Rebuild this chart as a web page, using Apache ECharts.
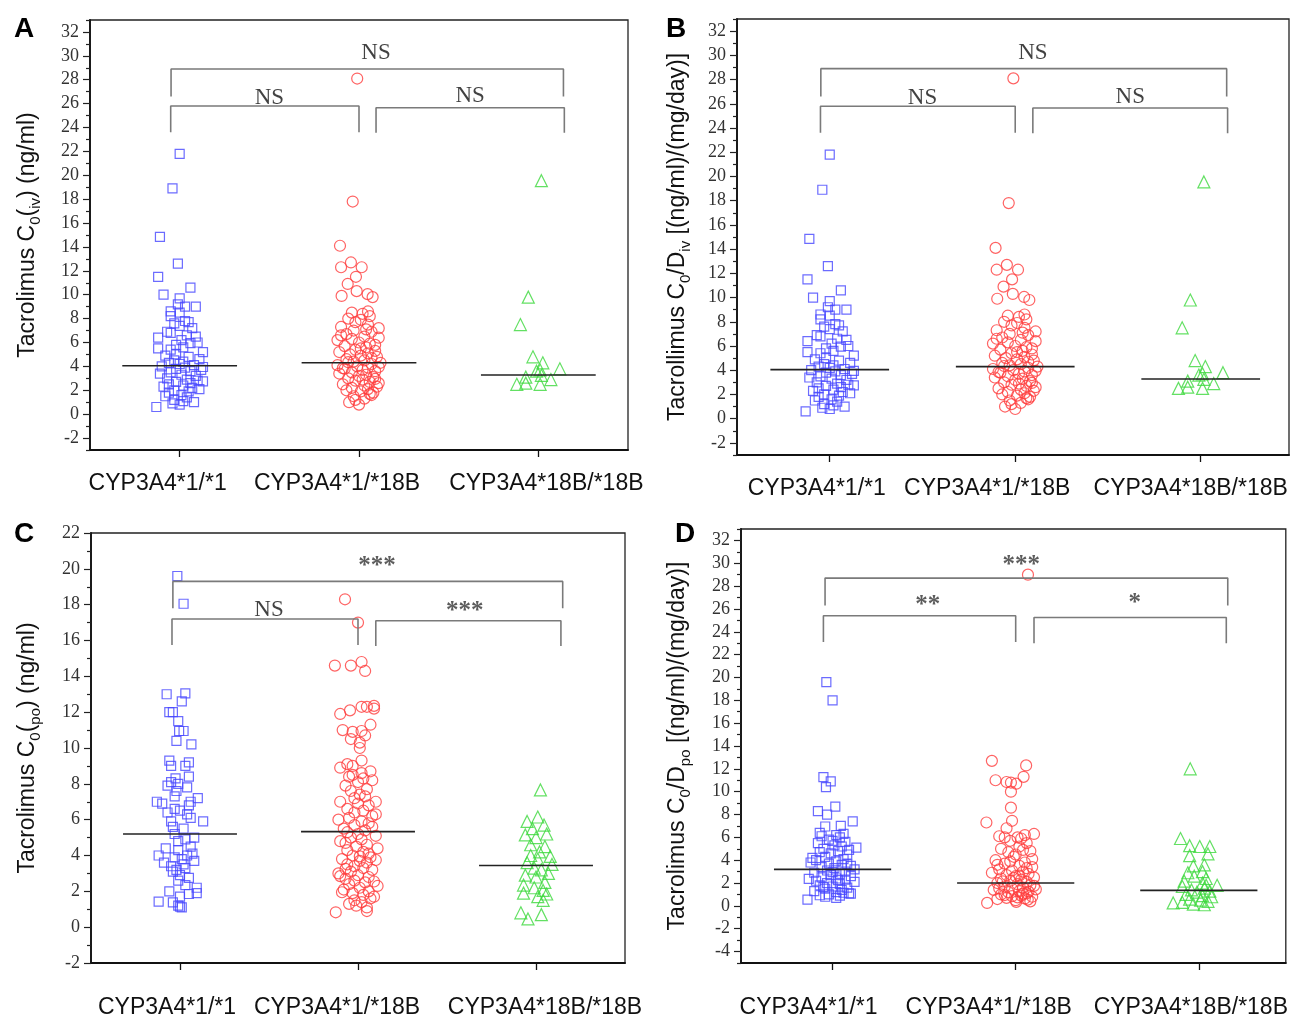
<!DOCTYPE html>
<html><head><meta charset="utf-8">
<script src="https://cdn.jsdelivr.net/npm/echarts@6/dist/echarts.min.js"></script>
<style>html,body{margin:0;padding:0;background:#fff}#c{width:1291px;height:1019px}</style>
</head><body><div id="c"></div>
<script>
// ---------------- DATA ----------------
const categories = ['CYP3A4*1/*1', 'CYP3A4*1/*18B', 'CYP3A4*18B/*18B'];

// each point: [value, horizontal jitter around the category]
const A_g1 = [[21.8,0.00],[18.9,-0.04],[14.85,-0.11],[12.6,-0.01],[11.5,-0.12],[10.6,0.06],[10.0,-0.09],[9.7,0.00],[9.0,0.09],[9.0,0.03],[8.6,-0.05],[8.5,0.00],[8.2,-0.05],[7.7,0.05],[7.4,0.00],[7.2,0.07],[6.8,-0.05],[6.6,0.04],[6.5,0.09],[6.4,-0.12],[6.2,0.01],[5.95,0.06],[5.5,-0.12],[5.4,-0.05],[5.2,0.13],[5.6,0.02],[5.0,-0.02],[4.8,0.05],[4.5,-0.03],[4.4,0.02],[4.3,-0.06],[4.2,0.00],[4.1,0.08],[4.0,-0.10],[3.9,0.03],[3.8,-0.02],[3.6,0.06],[3.5,-0.05],[3.3,0.01],[3.2,0.09],[3.0,-0.07],[2.9,0.04],[2.8,0.10],[2.7,-0.02],[2.6,0.06],[2.5,-0.06],[2.4,0.02],[2.3,-0.09],[2.2,0.07],[2.0,-0.03],[1.9,0.05],[1.8,-0.06],[1.6,0.01],[1.5,-0.08],[1.4,0.04],[1.2,-0.03],[1.0,0.08],[0.9,-0.04],[0.8,0.00],[0.6,-0.13],[6.9,-0.07],[7.8,0.03],[4.6,0.11],[3.4,-0.11],[2.1,0.11],[5.8,-0.02],[6.0,0.10],[4.9,-0.08],[3.7,0.12],[1.1,0.02],[2.75,0.13],[3.95,0.13],[9.2,-0.01],[7.6,-0.03]];
const A_g2 = [[28.1,-0.01],[17.8,-0.035],[14.1,-0.106],[12.7,-0.045],[12.3,-0.10],[12.3,0.015],[11.5,-0.017],[10.9,-0.063],[10.3,-0.013],[10.05,0.048],[9.9,-0.097],[9.8,0.076],[8.5,-0.04],[8.4,0.02],[8.2,0.06],[8.0,-0.06],[7.9,0.01],[7.7,-0.02],[7.5,0.05],[7.3,-0.10],[7.2,0.11],[7.0,-0.03],[6.9,0.07],[6.7,-0.07],[6.5,0.03],[6.4,0.11],[6.2,-0.12],[6.0,0.00],[5.9,0.06],[5.7,-0.08],[5.6,0.04],[5.4,-0.02],[5.3,0.09],[5.2,-0.11],[5.1,0.05],[5.0,-0.05],[4.9,0.01],[4.8,0.10],[4.6,-0.07],[4.5,0.03],[4.4,-0.03],[4.3,0.12],[4.2,0.07],[4.1,-0.12],[4.0,-0.01],[3.9,0.05],[3.8,-0.08],[3.7,0.02],[3.6,0.09],[3.5,-0.04],[3.4,-0.11],[3.3,0.04],[3.2,0.00],[3.1,0.08],[3.0,-0.06],[2.9,0.02],[2.8,-0.02],[2.7,0.06],[2.5,-0.09],[2.4,0.03],[2.3,0.10],[2.2,-0.04],[2.1,0.05],[2.0,-0.07],[1.9,0.01],[1.8,0.08],[1.7,0.06],[1.6,0.07],[1.5,-0.03],[1.3,0.03],[1.0,-0.055],[0.8,0.00],[6.3,-0.04],[5.8,0.09],[4.7,0.07],[3.85,-0.09],[2.6,0.11],[7.1,0.04],[5.5,0.01],[4.35,-0.06],[3.95,0.11],[2.95,0.09],[1.2,-0.02],[6.6,-0.10],[8.6,0.05]];
const A_g3 = [[19.55,0.017],[9.8,-0.056],[7.5,-0.10],[4.8,-0.03],[4.3,0.025],[3.8,0.12],[3.7,0.01],[3.6,-0.01],[3.25,0.017],[3.1,-0.07],[2.9,0.07],[2.6,-0.07],[2.5,-0.12],[2.5,0.01]];
const A_medians = [4.05, 4.3, 3.28];

// panel B shows the same points as panel A
const B_g1 = A_g1;
const B_g2 = A_g2;
const B_g3 = A_g3;
const B_medians = [4.05, 4.3, 3.28];

const C_g1 = [[19.6,-0.015],[18.05,0.02],[13.0,-0.075],[13.05,0.03],[12.6,0.01],[12.0,-0.06],[12.0,-0.04],[11.5,-0.01],[10.95,-0.005],[10.95,0.02],[10.4,-0.02],[10.2,0.064],[9.3,-0.06],[9.2,0.05],[9.0,0.03],[9.0,-0.05],[8.4,0.05],[8.3,-0.025],[8.1,-0.05],[7.9,-0.07],[7.8,0.04],[7.6,-0.02],[7.3,-0.03],[7.2,0.10],[7.0,-0.13],[7.0,0.06],[6.9,-0.10],[6.8,0.05],[6.6,-0.03],[6.5,0.00],[6.3,0.04],[6.1,0.06],[5.9,0.13],[5.9,-0.05],[5.6,-0.04],[5.2,-0.03],[5.0,0.08],[4.9,0.03],[4.8,-0.01],[4.4,-0.08],[4.3,-0.01],[4.1,0.07],[4.0,-0.12],[4.0,0.04],[3.9,-0.03],[3.8,0.01],[3.6,-0.09],[3.5,0.02],[3.4,-0.05],[3.3,0.03],[3.2,-0.02],[3.1,-0.04],[2.9,0.00],[2.6,-0.01],[2.35,0.03],[2.2,0.094],[2.0,-0.06],[1.9,0.094],[1.85,0.05],[1.7,0.00],[1.43,-0.12],[1.38,-0.04],[1.2,-0.01],[1.14,0.00],[1.1,0.01],[4.5,0.06],[3.7,0.08],[6.4,-0.07],[5.5,0.02],[2.75,0.05],[8.0,-0.01]];
const C_g2 = [[18.3,-0.073],[17.0,0.00],[14.6,-0.13],[14.6,-0.04],[14.8,0.02],[14.3,0.04],[12.35,0.09],[12.3,0.02],[12.3,0.05],[12.2,0.09],[12.1,-0.045],[11.9,-0.10],[11.3,0.07],[11.0,-0.086],[10.95,0.02],[10.9,-0.03],[10.7,0.04],[10.5,-0.04],[10.3,0.01],[10.0,0.01],[9.3,0.02],[9.1,-0.06],[8.9,-0.10],[8.7,0.07],[8.5,-0.03],[8.4,-0.05],[8.3,0.03],[8.2,0.08],[8.1,0.00],[7.9,-0.07],[7.7,0.05],[7.6,-0.04],[7.4,0.01],[7.2,-0.02],[7.0,0.10],[7.0,-0.10],[6.9,0.00],[6.8,0.06],[6.6,-0.06],[6.5,0.03],[6.2,0.08],[6.1,-0.05],[6.0,-0.11],[5.9,0.02],[5.8,0.06],[5.7,-0.02],[5.5,-0.08],[5.4,0.04],[5.2,0.00],[5.1,0.10],[5.0,-0.04],[4.9,0.02],[4.8,-0.10],[4.6,0.05],[4.5,-0.01],[4.4,0.11],[4.3,-0.06],[4.2,0.03],[4.0,-0.03],[3.9,0.07],[3.8,-0.09],[3.7,0.01],[3.6,0.05],[3.5,-0.06],[3.4,-0.02],[3.3,0.03],[3.2,0.08],[3.1,-0.04],[3.0,-0.11],[2.9,0.00],[2.8,0.06],[2.7,-0.07],[2.6,-0.02],[2.5,0.04],[2.4,-0.05],[2.3,0.11],[2.2,0.01],[2.1,-0.08],[2.0,0.06],[1.9,-0.03],[1.8,0.03],[1.7,0.09],[1.6,0.07],[1.5,-0.02],[1.4,0.02],[1.3,-0.05],[1.2,-0.01],[1.1,0.05],[0.9,0.05],[0.83,-0.125],[6.4,-0.02],[5.6,0.08],[4.7,-0.07],[3.95,0.01],[3.25,-0.07],[2.55,0.09],[1.95,-0.09],[7.3,0.04],[8.6,0.02],[9.0,-0.03],[6.3,0.10],[4.1,0.06],[2.85,-0.10],[5.3,-0.06],[3.75,0.10]];
const C_g3 = [[7.66,0.025],[6.15,0.01],[5.9,-0.05],[5.7,0.045],[5.5,-0.02],[5.2,0.06],[5.15,-0.06],[5.0,0.00],[4.6,-0.03],[4.5,0.05],[4.0,-0.03],[3.95,0.08],[3.8,0.01],[3.5,0.09],[3.2,0.03],[3.3,-0.01],[2.9,-0.06],[2.8,0.00],[2.35,-0.07],[2.2,-0.01],[2.05,0.04],[1.9,-0.07],[1.7,0.01],[1.5,0.04],[0.8,-0.085],[0.7,0.03],[0.46,-0.045],[1.85,0.06],[2.5,0.05],[3.6,-0.05],[4.2,0.02],[3.0,0.07]];
const C_medians = [5.2, 5.33, 3.44];

const D_g1 = [[19.6,-0.034],[18.0,0.00],[11.27,-0.05],[10.9,-0.01],[10.4,-0.036],[8.7,0.015],[8.3,-0.08],[8.0,-0.03],[7.4,0.11],[7.0,0.045],[6.95,-0.04],[6.4,-0.07],[6.2,0.02],[6.1,-0.06],[6.0,0.04],[5.8,-0.02],[5.6,0.07],[5.5,-0.08],[5.3,0.01],[5.2,0.05],[5.1,0.13],[5.0,-0.05],[4.8,0.03],[4.6,-0.01],[4.5,0.08],[4.3,-0.04],[4.1,0.06],[4.0,-0.09],[3.9,0.02],[3.8,-0.12],[3.7,-0.02],[3.6,0.05],[3.5,0.10],[3.4,-0.06],[3.3,0.01],[3.1,-0.03],[3.0,0.07],[2.9,-0.10],[2.8,0.04],[2.7,-0.01],[2.6,0.10],[2.5,-0.06],[2.4,0.02],[2.37,-0.13],[2.3,0.07],[2.2,-0.09],[2.1,0.12],[2.0,-0.03],[1.9,0.04],[1.8,-0.07],[1.7,0.00],[1.6,0.08],[1.5,-0.04],[1.4,0.05],[1.3,-0.10],[1.2,0.02],[1.1,0.09],[1.07,0.10],[1.0,-0.02],[0.93,-0.07],[0.9,0.04],[0.8,-0.04],[0.7,0.02],[0.55,-0.137],[5.7,0.00],[4.9,0.09],[4.2,-0.11],[3.65,0.08],[2.95,0.00],[2.25,0.03],[1.65,-0.05],[1.15,0.06],[3.2,0.12],[4.7,-0.07],[6.3,0.06]];
const D_g2 = [[29.0,0.067],[12.7,-0.13],[12.3,0.057],[11.3,0.043],[11.0,-0.11],[10.85,-0.05],[10.8,-0.026],[10.7,0.003],[10.0,-0.026],[8.6,-0.026],[7.45,-0.02],[7.3,-0.16],[6.8,-0.05],[6.2,0.05],[6.1,-0.09],[6.0,-0.06],[6.0,0.01],[5.7,-0.03],[5.2,0.02],[5.0,-0.08],[4.9,0.04],[4.7,-0.04],[4.5,0.00],[4.1,0.09],[4.0,-0.11],[3.8,0.05],[3.7,-0.06],[3.5,0.02],[3.4,0.09],[3.2,-0.09],[3.1,-0.02],[3.0,0.04],[2.9,-0.13],[2.8,0.07],[2.7,-0.05],[2.6,0.00],[2.5,0.10],[2.4,-0.08],[2.3,0.03],[2.2,-0.03],[2.1,0.06],[2.0,-0.10],[1.9,0.01],[1.8,0.08],[1.7,-0.06],[1.6,0.04],[1.5,-0.02],[1.45,0.11],[1.4,-0.12],[1.3,0.02],[1.2,-0.04],[1.1,0.06],[1.0,-0.08],[0.9,0.03],[0.85,-0.02],[0.8,0.09],[0.7,-0.05],[0.65,0.05],[0.6,-0.10],[0.55,0.066],[0.5,0.00],[0.35,0.003],[0.26,-0.156],[5.5,0.06],[4.3,-0.01],[3.6,-0.10],[3.3,0.06],[2.65,0.02],[2.15,-0.07],[1.75,0.10],[1.25,0.07],[0.95,-0.06],[0.75,0.01],[4.8,0.08],[3.9,-0.03],[2.45,-0.01],[1.55,-0.09],[1.05,0.04],[5.9,0.03],[6.3,0.10],[0.4,0.08]];
const D_g3 = [[12.0,-0.047],[5.9,-0.10],[5.27,-0.05],[5.2,0.06],[5.2,0.005],[4.55,0.05],[4.4,-0.05],[3.6,0.03],[3.5,-0.03],[3.0,0.02],[2.9,-0.06],[2.6,-0.025],[2.4,0.04],[2.17,-0.08],[2.0,0.02],[1.8,0.10],[1.8,0.04],[1.7,-0.09],[1.55,0.03],[1.4,-0.04],[1.3,0.06],[1.2,-0.01],[1.0,-0.07],[0.9,0.02],[0.8,0.07],[0.6,-0.05],[0.5,0.01],[0.4,0.05],[0.3,-0.09],[0.26,-0.14],[0.15,-0.03],[0.1,0.03]];
const D_medians = [3.2, 2.0, 1.36];

// tick labels
const ticks_m2_32 = [-2,0,2,4,6,8,10,12,14,16,18,20,22,24,26,28,30,32];
const ticks_m2_22 = [-2,0,2,4,6,8,10,12,14,16,18,20,22];
const ticks_m4_32 = [-4,-2,0,2,4,6,8,10,12,14,16,18,20,22,24,26,28,30,32];

// significance annotations
const A_notes = [['NS',2.095,30.2],['NS',1.5,26.5],['NS',2.62,26.6]];
const B_notes = [['NS',2.095,30.2],['NS',1.5,26.5],['NS',2.62,26.6]];
const C_notes = [['***',2.107,20.3],['NS',1.5,17.7],['***',2.6,17.8]];
const D_notes = [['***',2.03,30.1],['**',1.52,26.6],['*',2.65,26.7]];

// brackets: [x1, x2, yTop, yBottomLeft, yBottomRight]
const AB_brackets = [[0.952,3.14,28.9,26.6,26.6],[0.95,2.0,25.8,23.6,23.6],[2.095,3.145,25.65,23.56,23.56]];
const C_brackets = [[0.96,3.15,19.3,17.8,17.8],[0.955,2.0,17.2,15.75,15.75],[2.1,3.14,17.1,15.7,15.7]];
const D_brackets = [[0.959,3.158,28.7,26.3,26.3],[0.95,2.0,25.4,23.1,23.1],[2.10,3.15,25.25,23.0,23.0]];

// ---------------- LAYOUT / STYLE ----------------
const SANS = '"Liberation Sans", Arial, Helvetica, sans-serif';
const SERIF = '"Liberation Serif", "Times New Roman", serif';
const groupStyle = [
  {symbol:'rect', size:9, color:'#4646ff'},
  {symbol:'circle', size:11, color:'#ff3c3c'},
  {symbol:'triangle', size:12, color:'#3cd83c'}
];
const panels = [
  {letter:'A', lx:24, ly:29, grid:{left:90,top:20,width:538,height:430}, ymin:-3, ymax:33, xmax:3.5,
   ticks:ticks_m2_32, groups:[A_g1,A_g2,A_g3], medians:A_medians, notes:A_notes, brackets:AB_brackets,
   name:'Tacrolimus C{s|0}({s|iv}) (ng/ml)', nameGap:47, shift:[-22,-22,8], labelMargin:22},
  {letter:'B', lx:676, ly:29, grid:{left:737,top:19,width:552,height:436}, ymin:-3, ymax:33, xmax:3.476,
   ticks:ticks_m2_32, groups:[B_g1,B_g2,B_g3], medians:B_medians, notes:B_notes, brackets:AB_brackets,
   name:'Tacrollimus C{s|0}/D{s|iv} [(ng/ml)/(mg/day)]', nameGap:44, shift:[-13,-28,-10], labelMargin:22},
  {letter:'C', lx:24, ly:534, grid:{left:91,top:533,width:534,height:434}, ymin:-2, ymax:22, xmax:3.5,
   ticks:ticks_m2_22, groups:[C_g1,C_g2,C_g3], medians:C_medians, notes:C_notes, brackets:C_brackets,
   name:'Tacrolimus C{s|0}({s|po}) (ng/ml)', nameGap:48, shift:[-13,-21,9], labelMargin:33},
  {letter:'D', lx:685, ly:534, grid:{left:741,top:529,width:548,height:438}, ymin:-5, ymax:33, xmax:3.475,
   ticks:ticks_m4_32, groups:[D_g1,D_g2,D_g3], medians:D_medians, notes:D_notes, brackets:D_brackets,
   name:'Tacrolimus C{s|0}/D{s|po} [(ng/ml)/(mg/day)]', nameGap:48, shift:[-24,-27,-8], labelMargin:33}
];

const grids = [], xAxes = [], yAxes = [], series = [], graphics = [];
const HALF = 0.32;

panels.forEach((p, i) => {
  grids.push(Object.assign({show:true, borderColor:'#222', borderWidth:1.3, backgroundColor:'rgba(0,0,0,0)'}, p.grid));
  const rich = {};
  p.shift.forEach((s, k) => { rich['l'+k] = {padding: s < 0 ? [0, -2*s, 0, 0] : [0, 0, 0, 2*s]}; });
  xAxes.push({
    type:'value', gridIndex:i, min:0.5, max:p.xmax, splitLine:{show:false},
    axisLine:{show:true, onZero:false, lineStyle:{color:'#111', width:1.8}},
    axisTick:{show:true, customValues:[1,2,3], length:7, inside:false, lineStyle:{color:'#111', width:1.3}},
    axisLabel:{show:true, customValues:[1,2,3], margin:p.labelMargin, fontSize:23, fontFamily:SANS, color:'#111',
      formatter: v => { const k = Math.round(v) - 1; return '{l'+k+'|'+categories[k]+'}'; }, rich}
  });
  const oddTicks = [];
  for (let v = Math.ceil(p.ymin); v <= p.ymax; v++) if (Math.abs(v % 2) === 1) oddTicks.push(v);
  yAxes.push({
    type:'value', gridIndex:i, min:p.ymin, max:p.ymax, position:'left', splitLine:{show:false},
    axisLine:{show:true, onZero:false, lineStyle:{color:'#111', width:1.8}},
    axisTick:{show:true, customValues:p.ticks, length:7, lineStyle:{color:'#222', width:1.2}},
    axisLabel:{show:true, customValues:p.ticks, margin:11, fontSize:18, fontFamily:SERIF, color:'#333'},
    name:p.name, nameLocation:'middle', nameGap:p.nameGap,
    nameTextStyle:{fontSize:23, fontFamily:SANS, color:'#111', lineHeight:30,
      rich:{s:{fontSize:15, lineHeight:15, verticalAlign:'bottom', fontFamily:SANS, color:'#111'}}}
  });
  yAxes.push({
    type:'value', gridIndex:i, min:p.ymin, max:p.ymax, position:'left', splitLine:{show:false},
    axisLine:{show:false}, axisLabel:{show:false},
    axisTick:{show:true, customValues:oddTicks, length:4, lineStyle:{color:'#222', width:1.2}}
  });
  const yi = i * 2;
  p.groups.forEach((g, k) => {
    const st = groupStyle[k];
    series.push({
      type:'scatter', xAxisIndex:i, yAxisIndex:yi, symbol:st.symbol, symbolSize:st.size,
      itemStyle:{color:'rgba(0,0,0,0)', borderColor:st.color, borderWidth:1.2},
      emphasis:{disabled:true}, silent:true,
      data: g.map(d => [k + 1 + d[1], d[0]])
    });
  });
  p.medians.forEach((m, k) => {
    series.push({
      type:'line', xAxisIndex:i, yAxisIndex:yi, showSymbol:false, silent:true, z:5,
      lineStyle:{color:'#222', width:1.6},
      data:[[k + 1 - HALF, m], [k + 1 + HALF, m]]
    });
  });
  p.brackets.forEach(b => {
    series.push({
      type:'line', xAxisIndex:i, yAxisIndex:yi, showSymbol:false, silent:true, z:4,
      lineStyle:{color:'#7a7a7a', width:1.6},
      data:[[b[0], b[3]], [b[0], b[2]], [b[1], b[2]], [b[1], b[4]]]
    });
  });
  series.push({
    type:'scatter', xAxisIndex:i, yAxisIndex:yi, symbolSize:1, silent:true, z:6,
    itemStyle:{color:'rgba(0,0,0,0)'},
    label:{show:true, position:'inside', fontFamily:SERIF, fontSize:23, color:'#111',
      formatter: q => q.value[2]},
    data: p.notes.map(n => {
      const star = n[0].indexOf('*') >= 0;
      return {value:[n[1], n[2], n[0]],
        label: star ? {offset:[0, 3], fontSize:25, fontWeight:'bold', color:'#333'} : {offset:[0, 0]}};
    })
  });
  graphics.push({type:'text', x:p.lx, y:p.ly,
    style:{text:p.letter, fontSize:28, fontWeight:'bold', fontFamily:SANS, fill:'#000', align:'center', verticalAlign:'middle'}});
});

const chart = echarts.init(document.getElementById('c'), null, {renderer:'canvas'});
chart.setOption({
  backgroundColor:'#fff', animation:false,
  grid:grids, xAxis:xAxes, yAxis:yAxes, series:series, graphic:graphics
});
</script></body></html>
